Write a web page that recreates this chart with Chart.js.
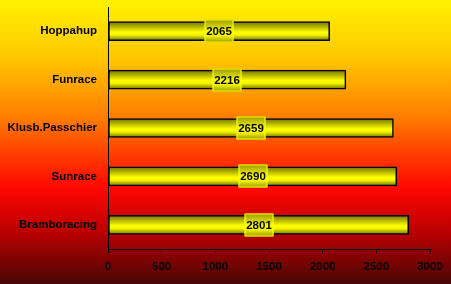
<!DOCTYPE html>
<html>
<head>
<meta charset="utf-8">
<script src="https://cdn.jsdelivr.net/npm/chart.js@4/dist/chart.umd.min.js"></script>
<style>
  html, body { margin: 0; padding: 0; }
  #wrap { width: 451px; height: 284px; position: relative; }
</style>
</head>
<body>
<div id="wrap"><canvas id="grafico"></canvas></div>
<script>
const categorias = ["Hoppahup", "Funrace", "Klusb.Passchier", "Sunrace", "Bramboracing"];
const valores = [2065, 2216, 2659, 2690, 2801];
const ticksX = [0, 500, 1000, 1500, 2000, 2500, 3000];

const fuente = "'Liberation Sans', Arial, sans-serif";

// fondo degradado amarillo -> rojo oscuro
const fondoPlugin = {
  id: "fondo",
  beforeDraw(chart) {
    const ctx = chart.ctx;
    const h = chart.height;
    const g = ctx.createLinearGradient(0, 0, 0, h);
    g.addColorStop(0, "#fff200");
    g.addColorStop(0.2, "#ffc800");
    g.addColorStop(0.42, "#ff7a00");
    g.addColorStop(0.55, "#ff3a00");
    g.addColorStop(0.66, "#ff0800");
    g.addColorStop(0.82, "#b80000");
    g.addColorStop(1, "#4a0606");
    ctx.save();
    ctx.fillStyle = g;
    ctx.fillRect(0, 0, chart.width, h);
    ctx.restore();
  }
};

function degradadoBarra(ctx, yTop, yBot, oscuro) {
  const g = ctx.createLinearGradient(0, yTop, 0, yBot);
  g.addColorStop(0, oscuro);
  g.addColorStop(0.55, "#ffff00");
  g.addColorStop(0.7, "#f4f400");
  g.addColorStop(1, oscuro);
  return g;
}

// etiquetas con caja en el centro de cada barra
const etiquetasPlugin = {
  id: "etiquetas",
  afterDatasetsDraw(chart) {
    const ctx = chart.ctx;
    const meta = chart.getDatasetMeta(0);
    ctx.save();
    meta.data.forEach((bar, i) => {
      const cx = Math.round((bar.base + bar.x) / 2);
      const cy = Math.round(bar.y);
      const w = 29, h = 23;
      const x0 = cx - w / 2, y0 = cy - h / 2;
      ctx.fillStyle = degradadoBarra(ctx, y0, y0 + h, "#9a9a00");
      ctx.fillRect(x0, y0, w, h);
      ctx.strokeStyle = "#ffff00";
      ctx.lineWidth = 1;
      ctx.strokeRect(x0 + 0.5, y0 + 0.5, w - 1, h - 1);
      ctx.fillStyle = "#000";
      ctx.font = "bold 11.5px " + fuente;
      ctx.textAlign = "center";
      ctx.textBaseline = "middle";
      ctx.fillText(String(valores[i]), cx, cy + 1);
    });
    ctx.restore();
  }
};

new Chart(document.getElementById("grafico"), {
  type: "bar",
  data: {
    labels: categorias,
    datasets: [
      {
        data: valores,
        backgroundColor: (context) => {
          const chart = context.chart;
          if (!chart.chartArea || context.dataIndex === undefined) return "#ffff00";
          const y = chart.scales.y.getPixelForValue(context.dataIndex);
          return degradadoBarra(chart.ctx, y - 9.5, y + 9.5, "#707000");
        },
        borderColor: "#000",
        borderWidth: 1.5,
        borderSkipped: false,
        barThickness: 19,
      },
    ],
  },
  options: {
    indexAxis: "y",
    responsive: true,
    maintainAspectRatio: false,
    animation: false,
    devicePixelRatio: 1,
    layout: { padding: { top: 7, right: 21, left: 0, bottom: 0 } },
    plugins: {
      legend: { display: false },
      tooltip: { enabled: false },
    },
    scales: {
      x: {
        min: 0,
        max: 3000,
        afterBuildTicks: (scale) => {
          scale.ticks = ticksX.map((v) => ({ value: v }));
        },
        afterFit: (scale) => {
          scale.height = 35;
        },
        grid: {
          drawOnChartArea: false,
          drawTicks: true,
          tickLength: 4,
          color: "#000",
        },
        border: { color: "#000", width: 1 },
        ticks: {
          color: "#000",
          padding: 7,
          maxRotation: 0,
          callback: (v) => String(v),
          font: { family: fuente, size: 11.5, weight: "bold" },
        },
      },
      y: {
        afterFit: (scale) => {
          scale.width = 108;
          scale.paddingTop = 0;
          scale.paddingBottom = 0;
        },
        grid: { display: false, drawTicks: false },
        border: { color: "#000", width: 1 },
        ticks: {
          color: "#000",
          padding: 11,
          font: { family: fuente, size: 11.5, weight: "bold" },
        },
      },
    },
  },
  plugins: [fondoPlugin, etiquetasPlugin],
});
</script>
</body>
</html>
